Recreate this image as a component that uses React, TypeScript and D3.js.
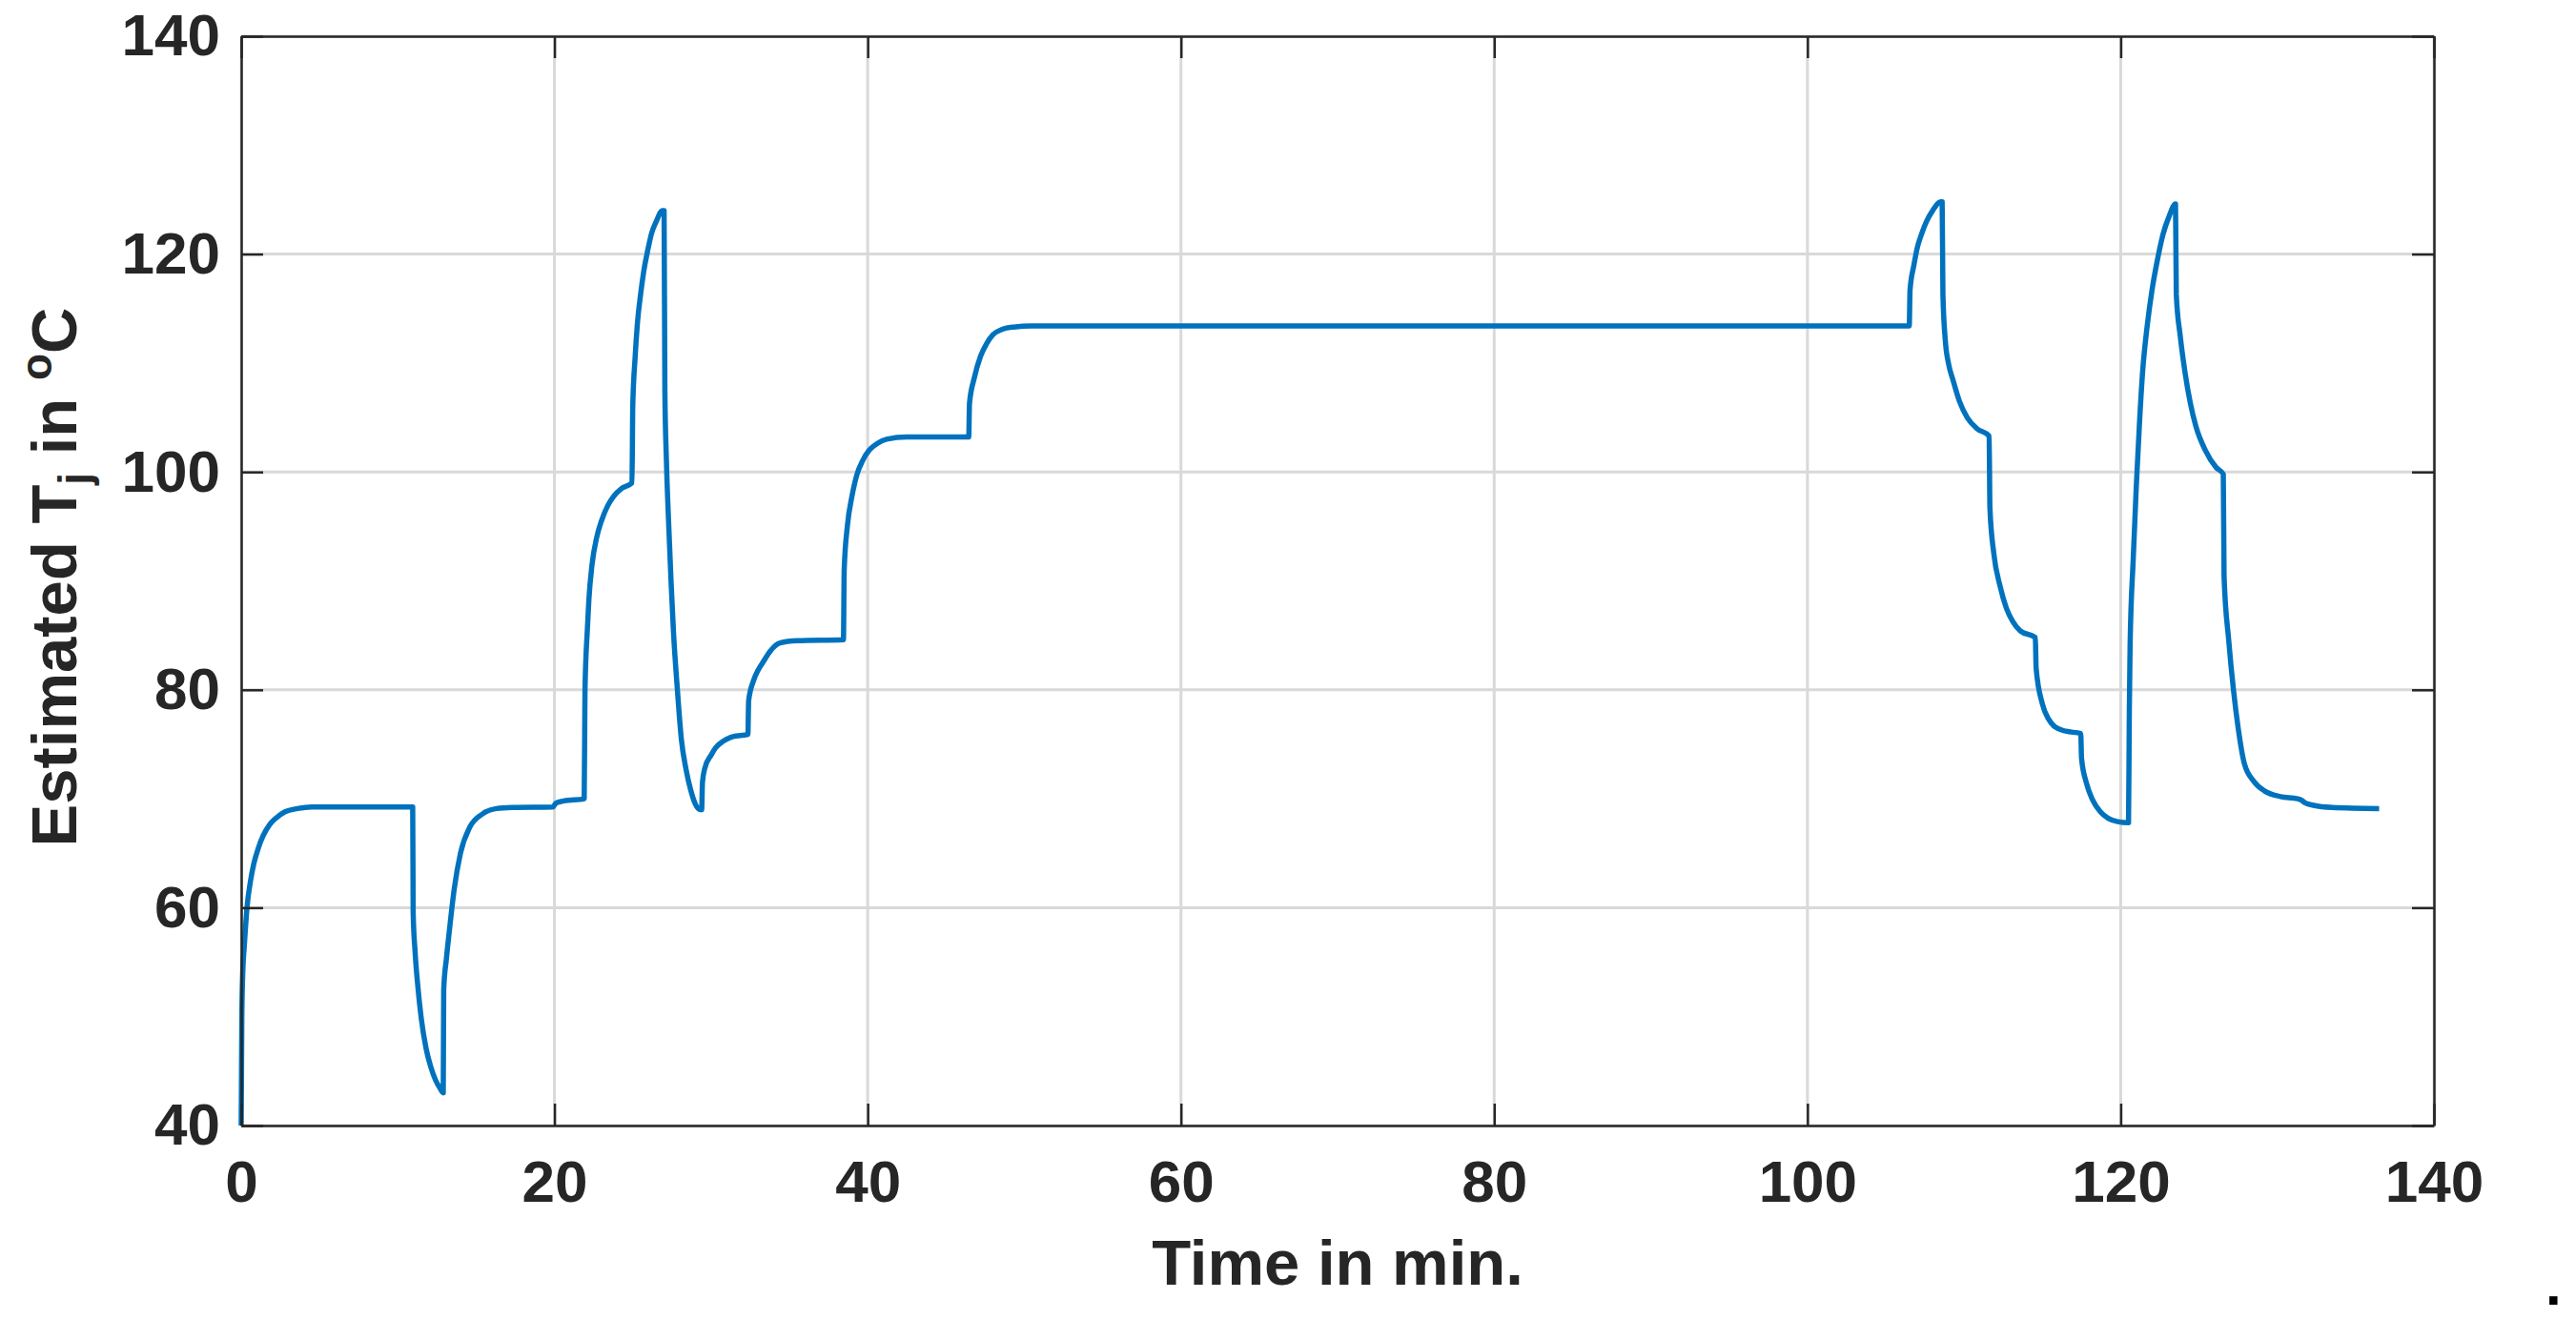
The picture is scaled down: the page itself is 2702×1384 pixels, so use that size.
import React, { useEffect, useRef } from 'react';
import * as d3 from 'd3';

// time in minutes
const timeMin = [
  0, 0.04, 0.1, 0.2, 0.37, 0.6, 0.8, 1.1, 1.4, 1.8, 2.2, 2.8, 3.6, 4.5, 10.95,
  10.98, 11.1, 11.27, 11.5, 11.8, 12.1, 12.4, 12.7, 12.9,
  12.93, 13.1, 13.3, 13.6, 14.0, 14.6, 15.4, 16.3, 17.3, 19.9, 20.1, 20.6, 21.9,
  21.95, 22.1, 22.2, 22.4, 22.7, 23.0, 23.4, 23.8, 24.3, 24.95,
  25.0, 25.15, 25.3, 25.5, 25.7, 25.95, 26.2, 26.5, 26.9, 27.0,
  27.05, 27.15, 27.3, 27.45, 27.6, 27.85, 28.1, 28.4, 28.7, 29.0, 29.3, 29.4,
  29.45, 29.6, 30.0, 30.3, 30.8, 31.4, 32.35,
  32.4, 32.7, 33.0, 33.3, 33.8, 34.4, 35.5, 38.45,
  38.5, 38.7, 39.0, 39.3, 39.7, 40.1, 40.6, 41.2, 42.5, 46.45,
  46.5, 46.8, 47.2, 47.6, 48.0, 48.6, 49.3, 50.5, 106.5,
  106.55, 106.8, 107.0, 107.3, 107.6, 108.0, 108.5, 108.6,
  108.65, 108.8, 109.0, 109.3, 109.7, 110.2, 110.8, 111.6,
  111.65, 111.9, 112.3, 112.7, 113.1, 113.6, 114.55,
  114.6, 115.0, 115.4, 115.8, 116.5, 117.45,
  117.5, 117.8, 118.2, 118.7, 119.2, 119.8, 120.5,
  120.55, 120.6, 120.8, 121.0, 121.2, 121.4, 121.7, 122.0, 122.35, 122.7, 123.1, 123.5,
  123.55, 123.8, 124.1, 124.45, 124.8, 125.4, 126.1, 126.55,
  126.6, 126.9, 127.2, 127.5, 127.9, 128.5, 129.2, 130.2, 131.3,
  131.5, 131.8, 132.3, 133.5, 136.5,
];

// estimated junction temperature in °C
const tjEstimated = [
  40, 50, 54, 56.5, 60, 62.5, 64.0, 65.5, 66.6, 67.6, 68.2, 68.8, 69.1, 69.25, 69.25,
  59.5, 56, 52.9, 49.8, 47.1, 45.4, 44.2, 43.4, 43.0,
  52.5, 55.3, 58.0, 61.7, 65.0, 67.4, 68.6, 69.1, 69.2, 69.25, 69.6, 69.8, 70.0,
  80.0, 85.5, 88.3, 91.5, 94.0, 95.5, 96.9, 97.8, 98.5, 99.0,
  106.0, 110.5, 113.7, 116.3, 118.4, 120.3, 121.9, 123.0, 124.0, 124.0,
  107.5, 101, 95.0, 89.8, 85.3, 80, 75.5, 72.7, 70.8, 69.5, 69.0, 69.0,
  71.5, 72.8, 74.0, 74.7, 75.3, 75.7, 75.9,
  79.0, 80.8, 81.8, 82.5, 83.6, 84.3, 84.5, 84.6,
  91.0, 95.0, 97.8, 99.7, 101.1, 102.0, 102.6, 103.0, 103.2, 103.2,
  106.3, 108.6, 110.6, 111.8, 112.6, 113.1, 113.3, 113.4, 113.4,
  116.7, 119.0, 120.5, 121.9, 123.0, 124.0, 124.8, 124.8,
  116.3, 112.1, 110.0, 108.4, 106.5, 105.0, 104.0, 103.3,
  96.7, 92.5, 89.5, 87.5, 86.3, 85.4, 84.8,
  82.0, 78.7, 77.3, 76.6, 76.2, 76.0,
  73.7, 71.5, 69.9, 68.8, 68.2, 67.9, 67.8,
  78, 84.1, 92, 98.8, 104.5, 109.2, 113.5, 116.7, 119.5, 121.8, 123.5, 124.6,
  116.3, 112.5, 109.2, 106.3, 104.2, 102.0, 100.4, 99.8,
  90.4, 84.5, 80.0, 76.5, 73.2, 71.6, 70.7, 70.2, 70.0,
  69.9, 69.6, 69.4, 69.2, 69.1,
];

const xTickValues = [0, 20, 40, 60, 80, 100, 120, 140];
const yTickValues = [40, 60, 80, 100, 120, 140];

const FONT = '"Liberation Sans", Arial, Helvetica, sans-serif';
const INK = '#262626';

const App = () => {
  const svgRef = useRef<SVGSVGElement>(null);

  useEffect(() => {
    const width = 2702;
    const height = 1384;
    const margin = { left: 253, right: 149, top: 38, bottom: 203 };
    const tickLen = 23;

    const x = d3.scaleLinear().domain([0, 140]).range([margin.left, width - margin.right]);
    const y = d3.scaleLinear().domain([40, 140]).range([height - margin.bottom, margin.top]);

    const svg = d3.select(svgRef.current);
    svg.selectAll('*').remove();

    svg.append('rect').attr('width', width).attr('height', height).attr('fill', '#fff');

    // grid
    const grid = svg.append('g').attr('stroke', '#d9d9d9').attr('stroke-width', 3);
    grid.selectAll('.gx')
      .data(xTickValues)
      .enter().append('line')
      .attr('x1', d => x(d)).attr('x2', d => x(d))
      .attr('y1', y(40)).attr('y2', y(140));
    grid.selectAll('.gy')
      .data(yTickValues)
      .enter().append('line')
      .attr('x1', x(0)).attr('x2', x(140))
      .attr('y1', d => y(d)).attr('y2', d => y(d));

    // the trace
    const points = timeMin.map((t, i) => [t, tjEstimated[i]] as [number, number]);
    const line = d3.line<[number, number]>()
      .x(d => x(d[0]))
      .y(d => y(d[1]))
      .curve(d3.curveMonotoneX);
    svg.append('path')
      .datum(points)
      .attr('d', line)
      .attr('fill', 'none')
      .attr('stroke', '#0072BD')
      .attr('stroke-width', 5.5)
      .attr('stroke-linejoin', 'round');

    // axes (ticks point inward, like MATLAB)
    const styleAxis = (g: d3.Selection<SVGGElement, unknown, null, undefined>) => {
      g.select('.domain').attr('stroke', INK).attr('stroke-width', 2.5);
      g.selectAll('.tick line').attr('stroke', INK).attr('stroke-width', 2.5);
      g.selectAll('.tick text')
        .attr('fill', INK)
        .attr('font-family', FONT)
        .attr('font-weight', 'bold')
        .attr('font-size', 62);
    };

    svg.append('g')
      .attr('transform', `translate(0,${y(40)})`)
      .call(d3.axisBottom(x).tickValues(xTickValues).tickSizeInner(-tickLen).tickSizeOuter(0).tickPadding(36).tickFormat(d3.format('d')))
      .call(styleAxis);
    svg.append('g')
      .attr('transform', `translate(0,${y(140)})`)
      .call(d3.axisTop(x).tickValues(xTickValues).tickSizeInner(-tickLen).tickSizeOuter(0).tickFormat(() => ''))
      .call(styleAxis);
    svg.append('g')
      .attr('transform', `translate(${x(0)},0)`)
      .call(d3.axisLeft(y).tickValues(yTickValues).tickSizeInner(-tickLen).tickSizeOuter(0).tickPadding(22).tickFormat(d3.format('d')))
      .call(styleAxis);
    svg.append('g')
      .attr('transform', `translate(${x(140)},0)`)
      .call(d3.axisRight(y).tickValues(yTickValues).tickSizeInner(-tickLen).tickSizeOuter(0).tickFormat(() => ''))
      .call(styleAxis);

    // axis titles
    svg.append('text')
      .attr('x', (x(0) + x(140)) / 2)
      .attr('y', 1348)
      .attr('text-anchor', 'middle')
      .attr('font-family', FONT)
      .attr('font-weight', 'bold')
      .attr('font-size', 67)
      .attr('fill', INK)
      .text('Time in min.');

    const yl = svg.append('text')
      .attr('transform', `translate(80,${(y(40) + y(140)) / 2 - 4}) rotate(-90)`)
      .attr('text-anchor', 'middle')
      .attr('font-family', FONT)
      .attr('font-weight', 'bold')
      .attr('font-size', 67)
      .attr('fill', INK);
    yl.append('tspan').text('Estimated T');
    yl.append('tspan').attr('font-size', 46).attr('dy', 14).text('j');
    yl.append('tspan').attr('dy', -14).text(' in ');
    yl.append('tspan').attr('font-size', 46).attr('dy', -26).text('o');
    yl.append('tspan').attr('dy', 26).text('C');

    // stray full stop at bottom right of the figure
    svg.append('text')
      .attr('x', 2670)
      .attr('y', 1369)
      .attr('font-family', FONT)
      .attr('font-weight', 'bold')
      .attr('font-size', 60)
      .attr('fill', '#000')
      .text('.');
  }, []);

  return (
    <svg
      ref={svgRef}
      width={2702}
      height={1384}
      style={{ position: 'absolute', left: 0, top: 0, display: 'block' }}
    />
  );
};

export default App;
